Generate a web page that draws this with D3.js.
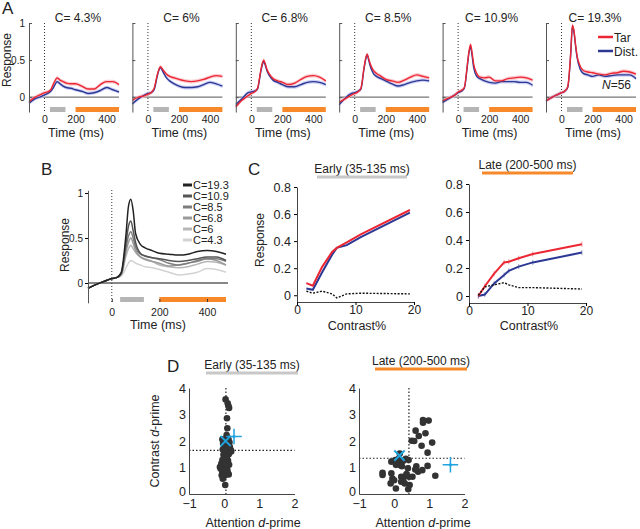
<!DOCTYPE html>
<html>
<head>
<meta charset="utf-8">
<script src="https://cdn.jsdelivr.net/npm/d3@7"></script>
<style>
  body { margin: 0; background: #fff; }
  svg text { font-family: "Liberation Sans", Arial, sans-serif; fill: #222; }
</style>
</head>
<body>
<div id="fig"></div>
<script>
// ---- data ----
const contrasts = ["4.3", "6", "6.8", "8.5", "10.9", "19.3"];
const times = [-100, -60, -20, 0, 20, 40, 60, 70, 80, 90, 100, 120, 140, 170, 200, 240, 280, 320, 360, 400, 440, 480];

// panel A, target / distractor response per contrast
const tarResp = [
  [-0.06, 0.0, 0.04, 0.06, 0.07, 0.10, 0.19, 0.23, 0.26, 0.25, 0.23, 0.21, 0.19, 0.18, 0.18, 0.15, 0.11, 0.11, 0.17, 0.21, 0.21, 0.17],
  [-0.04, 0.0, 0.02, 0.04, 0.06, 0.12, 0.30, 0.37, 0.41, 0.39, 0.36, 0.31, 0.28, 0.26, 0.24, 0.22, 0.21, 0.22, 0.24, 0.27, 0.29, 0.28],
  [-0.13, -0.04, 0.02, 0.05, 0.07, 0.12, 0.35, 0.45, 0.50, 0.45, 0.38, 0.30, 0.25, 0.22, 0.20, 0.17, 0.19, 0.24, 0.28, 0.29, 0.27, 0.22],
  [-0.07, -0.02, 0.03, 0.05, 0.07, 0.12, 0.40, 0.52, 0.58, 0.52, 0.45, 0.36, 0.32, 0.28, 0.24, 0.22, 0.20, 0.23, 0.27, 0.30, 0.28, 0.26],
  [-0.05, -0.01, 0.03, 0.07, 0.09, 0.13, 0.45, 0.62, 0.71, 0.60, 0.45, 0.32, 0.27, 0.26, 0.27, 0.22, 0.22, 0.25, 0.26, 0.27, 0.26, 0.23],
  [-0.05, 0.0, 0.04, 0.06, 0.08, 0.14, 0.62, 0.97, 0.90, 0.72, 0.56, 0.42, 0.36, 0.34, 0.33, 0.31, 0.30, 0.32, 0.33, 0.35, 0.34, 0.31]
];
const distResp = [
  [-0.08, -0.02, 0.01, 0.03, 0.05, 0.08, 0.14, 0.18, 0.21, 0.20, 0.18, 0.15, 0.13, 0.12, 0.10, 0.08, 0.05, 0.06, 0.09, 0.13, 0.10, 0.07],
  [-0.09, -0.02, 0.03, 0.05, 0.06, 0.10, 0.28, 0.36, 0.40, 0.37, 0.33, 0.26, 0.22, 0.18, 0.15, 0.13, 0.13, 0.14, 0.17, 0.20, 0.18, 0.15],
  [-0.10, -0.02, 0.06, 0.07, 0.08, 0.11, 0.33, 0.43, 0.48, 0.43, 0.36, 0.28, 0.23, 0.20, 0.17, 0.14, 0.14, 0.17, 0.20, 0.21, 0.20, 0.17],
  [-0.10, -0.01, 0.05, 0.06, 0.08, 0.11, 0.38, 0.50, 0.57, 0.50, 0.42, 0.32, 0.28, 0.25, 0.22, 0.18, 0.15, 0.17, 0.20, 0.22, 0.23, 0.22],
  [-0.07, -0.02, 0.03, 0.06, 0.08, 0.12, 0.43, 0.60, 0.68, 0.56, 0.40, 0.28, 0.25, 0.22, 0.20, 0.19, 0.21, 0.21, 0.21, 0.20, 0.20, 0.16],
  [-0.05, 0.0, 0.04, 0.06, 0.08, 0.13, 0.60, 0.95, 0.88, 0.70, 0.54, 0.38, 0.32, 0.30, 0.28, 0.30, 0.28, 0.29, 0.30, 0.30, 0.30, 0.25]
];

// panel B, mean response per contrast (highest first, as in legend)
const bLabels = ["C=19.3", "C=10.9", "C=8.5", "C=6.8", "C=6", "C=4.3"];
const bResp = [
  [-0.06, -0.01, 0.03, 0.05, 0.06, 0.12, 0.55, 0.85, 0.93, 0.80, 0.55, 0.43, 0.39, 0.36, 0.33, 0.32, 0.31, 0.32, 0.35, 0.36, 0.35, 0.32],
  [-0.06, -0.01, 0.03, 0.05, 0.06, 0.11, 0.45, 0.63, 0.69, 0.58, 0.45, 0.33, 0.30, 0.28, 0.27, 0.25, 0.24, 0.25, 0.27, 0.29, 0.29, 0.25],
  [-0.06, -0.01, 0.03, 0.05, 0.06, 0.10, 0.40, 0.52, 0.57, 0.50, 0.40, 0.32, 0.30, 0.28, 0.26, 0.22, 0.20, 0.22, 0.25, 0.27, 0.27, 0.24],
  [-0.06, -0.01, 0.03, 0.05, 0.06, 0.10, 0.35, 0.45, 0.50, 0.44, 0.36, 0.29, 0.26, 0.24, 0.22, 0.19, 0.20, 0.22, 0.24, 0.27, 0.25, 0.20],
  [-0.06, -0.01, 0.03, 0.05, 0.06, 0.09, 0.30, 0.38, 0.42, 0.38, 0.34, 0.29, 0.27, 0.24, 0.20, 0.18, 0.17, 0.18, 0.21, 0.24, 0.23, 0.20],
  [-0.06, -0.01, 0.03, 0.05, 0.06, 0.08, 0.17, 0.22, 0.25, 0.24, 0.22, 0.20, 0.18, 0.17, 0.15, 0.12, 0.09, 0.10, 0.12, 0.16, 0.15, 0.12]
];
const bColors = ["#222", "#555", "#7d7d7d", "#9a9a9a", "#b6b6b6", "#d2d2d2"];

// panel C, contrast response
const cContrast = [1.6, 2.7, 4.3, 6, 6.8, 8.5, 10.9, 19.3];
const earlyTar = [0.09, 0.07, 0.21, 0.32, 0.35, 0.39, 0.45, 0.63];
const earlyDist = [0.05, 0.04, 0.17, 0.30, 0.35, 0.37, 0.43, 0.61];
const earlyAtt = [0.03, 0.015, 0.03, 0.01, -0.02, 0.01, 0.015, 0.01];
const lateTar = [0.0, 0.07, 0.16, 0.24, 0.245, 0.27, 0.30, 0.37];
const lateDist = [0.0, 0.01, 0.09, 0.15, 0.18, 0.21, 0.24, 0.31];
const lateAtt = [0.005, 0.065, 0.08, 0.095, 0.08, 0.06, 0.06, 0.05];

// panel D, per-neuron d-primes [attention, contrast]
const earlyUnits = [
  [0.04, 3.57], [0.1, 3.42], [0.12, 3.33], [0.14, 3.25], [0.08, 2.86], [0.09, 2.48], [0.07, 2.22], [-0.05, 2.06],
  [0.03, 1.97], [0.1, 1.91], [0.16, 1.78], [0.0, 1.78], [0.0, 1.59], [0.1, 1.59], [0.19, 1.66], [0.0, 1.4],
  [0.08, 1.34], [-0.05, 1.28], [0.05, 1.15], [-0.12, 1.02], [0.0, 1.02], [0.09, 0.9], [-0.05, 0.8], [0.13, 0.74],
  [-0.03, 0.65], [-0.07, 0.71], [0.03, 0.34], [0.12, 2.05], [0.05, 1.85], [-0.03, 1.9], [0.08, 1.7], [0.13, 1.5],
  [-0.02, 1.48], [0.06, 1.45], [0.11, 1.25], [-0.08, 1.15], [0.02, 1.28], [0.07, 1.05], [0.14, 1.1], [-0.1, 0.95],
  [0.04, 0.88], [0.1, 0.8], [0.02, 0.7], [-0.04, 0.58], [0.06, 1.62], [0.15, 1.95], [-0.04, 1.68], [0.11, 2.1],
  [0.2, 1.6], [0.03, 1.12]
];
const lateUnits = [
  [0.82, 2.79], [0.98, 2.77], [0.82, 2.69], [0.61, 2.39], [0.7, 2.19], [0.89, 2.29], [0.5, 2.01], [0.57, 2.0],
  [1.08, 1.94], [0.78, 1.82], [0.95, 1.56], [0.16, 1.53], [-0.08, 1.22], [0.03, 1.28], [0.13, 1.34], [0.19, 1.22],
  [0.33, 1.33], [0.41, 1.28], [0.16, 1.09], [0.11, 1.15], [0.22, 1.05], [0.63, 1.05], [0.95, 1.06], [0.39, 0.97],
  [0.8, 0.9], [0.68, 0.84], [-0.33, 0.8], [-0.33, 0.72], [-0.08, 0.78], [1.17, 0.69], [0.2, 0.65], [0.28, 0.65],
  [0.42, 0.65], [0.52, 0.65], [-0.05, 0.58], [0.0, 0.52], [0.25, 0.52], [-0.1, 0.4], [0.2, 0.46], [0.05, 0.21],
  [0.4, 0.18], [0.3, 0.4], [0.44, 0.34], [0.05, 1.1], [0.25, 1.25], [0.6, 0.92], [0.35, 0.75]
];
const earlyMean = [0.04, 2.0], earlyPop = [0.28, 2.17];
const lateMean = [0.15, 1.45], latePop = [1.6, 1.1];
const earlyCrit = [0.05, 1.65], lateCrit = [0.42, 1.35];

const RED = "#ec2734", BLUE = "#2c3894", ORANGE = "#f7892b", GREYBAR = "#b5b5b5", CYAN = "#1fa4e0";

const svg = d3.select("#fig").append("svg")
  .attr("width", 640)
  .attr("height", 529);

function letter(txt, x, y) {
  svg.append("text").attr("x", x).attr("y", y).style("font-size", "17px").text(txt);
}

// ---------------- Panel A ----------------
letter("A", 2, 14);
svg.append("text")
  .attr("transform", "translate(11,60) rotate(-90)")
  .style("text-anchor", "middle").style("font-size", "12px")
  .text("Response");

contrasts.forEach((c, i) => {
  const x0 = 29 + i * 103.4;
  const x = d3.scaleLinear().domain([-100, 480]).range([x0, x0 + 90]);
  const y = d3.scaleLinear().domain([-0.2, 1]).range([112, 23]);
  const g = svg.append("g");

  g.append("line")
    .attr("x1", x0).attr("x2", x0 + 90).attr("y1", y(0)).attr("y2", y(0))
    .attr("stroke", "#777").attr("stroke-width", 1.3);
  g.append("line")
    .attr("x1", x(0)).attr("x2", x(0)).attr("y1", 23).attr("y2", 112)
    .attr("stroke", "#333").attr("stroke-dasharray", "1,2");

  const band = d3.area()
    .x((d, j) => x(times[j])).y0(d => y(d - 0.025)).y1(d => y(d + 0.025))
    .curve(d3.curveMonotoneX);
  const line = d3.line()
    .x((d, j) => x(times[j])).y(d => y(d))
    .curve(d3.curveMonotoneX);

  g.append("path").datum(distResp[i]).attr("d", band).attr("fill", "#b9bdf0").attr("opacity", 0.7);
  g.append("path").datum(tarResp[i]).attr("d", band).attr("fill", "#f8b7bd").attr("opacity", 0.7);
  g.append("path").datum(distResp[i]).attr("d", line).attr("fill", "none").attr("stroke", BLUE).attr("stroke-width", 1.4);
  g.append("path").datum(tarResp[i]).attr("d", line).attr("fill", "none").attr("stroke", RED).attr("stroke-width", 1.4);

  // analysis windows
  g.append("rect").attr("x", x(35)).attr("width", x(135) - x(35)).attr("y", 107).attr("height", 5).attr("fill", GREYBAR);
  g.append("rect").attr("x", x(200)).attr("width", x(480) - x(200)).attr("y", 107).attr("height", 5).attr("fill", ORANGE);

  const yAxis = g.append("g")
    .attr("transform", `translate(${x0},0)`)
    .call(d3.axisLeft(y).tickValues([0, 0.5, 1]).tickSize(-3).tickSizeOuter(0).tickPadding(4)
      .tickFormat(i === 0 ? d3.format("") : () => ""));
  yAxis.select(".domain").attr("stroke", "#555");
  yAxis.selectAll(".tick line").attr("stroke", "#555");
  yAxis.selectAll("text").style("font-size", "10px").attr("fill", "#222");

  const xAxis = g.append("g")
    .attr("transform", "translate(0,112)")
    .call(d3.axisBottom(x).tickValues([0, 200, 400]).tickSize(0).tickPadding(4));
  xAxis.select(".domain").remove();
  xAxis.selectAll("text").style("font-size", "10.5px").attr("fill", "#222");

  g.append("text")
    .attr("x", x0 + 49).attr("y", 22)
    .style("text-anchor", "middle").style("font-size", "12px")
    .text("C= " + c + "%");
  g.append("text")
    .attr("x", x0 + 47).attr("y", 137)
    .style("text-anchor", "middle").style("font-size", "12.5px")
    .text("Time (ms)");

  if (i === contrasts.length - 1) {
    [["Tar", RED, 37], ["Dist.", BLUE, 51]].forEach(([lab, col, ly]) => {
      g.append("line").attr("x1", 598).attr("x2", 613).attr("y1", ly).attr("y2", ly)
        .attr("stroke", col).attr("stroke-width", 2.5);
      g.append("text").attr("x", 614).attr("y", ly + 4.5).style("font-size", "12px").text(lab);
    });
    const n = g.append("text").attr("x", 631).attr("y", 89)
      .style("text-anchor", "end").style("font-size", "12px");
    n.append("tspan").style("font-style", "italic").text("N");
    n.append("tspan").text("=56");
  }
});

// ---------------- Panel B ----------------
letter("B", 41, 175);
{
  const x = d3.scaleLinear().domain([-100, 480]).range([88, 226]);
  const y = d3.scaleLinear().domain([-0.22, 1.03]).range([302.8, 190.3]);
  const g = svg.append("g");

  g.append("line").attr("x1", 88).attr("x2", 228).attr("y1", y(0)).attr("y2", y(0))
    .attr("stroke", "#111").attr("stroke-width", 1);
  g.append("line").attr("x1", x(0)).attr("x2", x(0)).attr("y1", 190).attr("y2", 302)
    .attr("stroke", "#333").attr("stroke-dasharray", "1,2");

  const line = d3.line().x((d, j) => x(times[j])).y(d => y(d)).curve(d3.curveMonotoneX);
  bResp.slice().reverse().forEach((r, k) => {
    const idx = bResp.length - 1 - k;
    g.append("path").datum(r).attr("d", line).attr("fill", "none")
      .attr("stroke", bColors[idx]).attr("stroke-width", 1.5);
  });

  g.append("rect").attr("x", x(35)).attr("width", x(135) - x(35)).attr("y", 297).attr("height", 5).attr("fill", GREYBAR);
  g.append("rect").attr("x", x(200)).attr("width", x(480) - x(200)).attr("y", 297).attr("height", 5).attr("fill", ORANGE);

  const yAxis = g.append("g").attr("transform", "translate(88,0)")
    .call(d3.axisLeft(y).tickValues([0, 0.5, 1]).tickSize(3).tickSizeOuter(0).tickPadding(2).tickFormat(d3.format("")));
  yAxis.select(".domain").attr("stroke", "#555");
  yAxis.selectAll("text").style("font-size", "10px").attr("fill", "#222");

  const xAxis = g.append("g").attr("transform", "translate(0,302)")
    .call(d3.axisBottom(x).tickValues([0, 200, 400]).tickSize(-3).tickPadding(7));
  xAxis.select(".domain").remove();
  xAxis.selectAll(".tick line").attr("stroke", "#333");
  xAxis.selectAll("text").style("font-size", "10.5px").attr("fill", "#222");

  svg.append("text").attr("transform", "translate(69,245) rotate(-90)")
    .style("text-anchor", "middle").style("font-size", "12px").text("Response");
  svg.append("text").attr("x", 158).attr("y", 329)
    .style("text-anchor", "middle").style("font-size", "12.5px").text("Time (ms)");

  bLabels.forEach((lab, k) => {
    const ly = 185 + k * 11;
    g.append("line").attr("x1", 183).attr("x2", 192).attr("y1", ly).attr("y2", ly)
      .attr("stroke", bColors[k]).attr("stroke-width", 3);
    g.append("text").attr("x", 193).attr("y", ly + 4).style("font-size", "11px").text(lab);
  });
}

// ---------------- Panel C ----------------
letter("C", 248, 175);
function contrastPanel(x0, yTop, yBot, tar, dist, att, title, barCol, bar, errs) {
  const x = d3.scaleLinear().domain([0, 20]).range([x0, x0 + 117]);
  const y = d3.scaleLinear().domain([-0.05, 0.8]).range([yBot, yTop]);
  const g = svg.append("g");

  const line = d3.line().x((d, j) => x(cContrast[j])).y(d => y(d));
  if (errs) {
    [[tar, RED], [dist, BLUE]].forEach(([s, col]) => {
      g.selectAll(null).data(s).enter().append("line")
        .attr("x1", (d, j) => x(cContrast[j])).attr("x2", (d, j) => x(cContrast[j]))
        .attr("y1", d => y(d - 0.018)).attr("y2", d => y(d + 0.018))
        .attr("stroke", col).attr("stroke-width", 0.8).attr("opacity", 0.6);
    });
  }
  g.append("path").datum(dist).attr("d", line).attr("fill", "none").attr("stroke", BLUE).attr("stroke-width", 2);
  g.append("path").datum(tar).attr("d", line).attr("fill", "none").attr("stroke", RED).attr("stroke-width", 2);
  g.append("path").datum(att).attr("d", line).attr("fill", "none").attr("stroke", "#111")
    .attr("stroke-width", 1.4).attr("stroke-dasharray", "2,1.5");

  const yAxis = g.append("g").attr("transform", `translate(${x0},0)`)
    .call(d3.axisLeft(y).tickValues([0, 0.2, 0.4, 0.6, 0.8]).tickSize(3).tickSizeOuter(0).tickPadding(3)
      .tickFormat(d3.format("")));
  yAxis.select(".domain").attr("stroke", "#444");
  yAxis.selectAll("text").style("font-size", "12.5px").attr("fill", "#222");

  const xAxis = g.append("g").attr("transform", `translate(0,${yBot})`)
    .call(d3.axisBottom(x).tickValues([0, 10, 20]).tickSize(3).tickSizeOuter(0).tickPadding(0));
  xAxis.select(".domain").attr("stroke", "#444");
  xAxis.selectAll("text").style("font-size", "12px").attr("fill", "#222");

  g.append("text").attr("x", x0 + 60).attr("y", 330)
    .style("text-anchor", "middle").style("font-size", "12.5px").text("Contrast%");
  g.append("text").attr("x", (bar[0] + bar[1]) / 2).attr("y", bar[2] - 4)
    .style("text-anchor", "middle").style("font-size", "12px").text(title);
  g.append("line").attr("x1", bar[0]).attr("x2", bar[1]).attr("y1", bar[2]).attr("y2", bar[2])
    .attr("stroke", barCol).attr("stroke-width", 3);
}
contrastPanel(297, 187, 302, earlyTar, earlyDist, earlyAtt, "Early (35-135 ms)", "#c8c8c8", [317, 407, 177], false);
contrastPanel(469, 184, 303, lateTar, lateDist, lateAtt, "Late (200-500 ms)", ORANGE, [482, 573, 173], true);
svg.append("text").attr("transform", "translate(264,240) rotate(-90)")
  .style("text-anchor", "middle").style("font-size", "12px").text("Response");

// ---------------- Panel D ----------------
letter("D", 167, 372);
function dprimePanel(x0, units, mean, pop, crit, title, barCol, bar) {
  const x = d3.scaleLinear().domain([-1, 2]).range([x0, x0 + 105.5]);
  const y = d3.scaleLinear().domain([0, 4]).range([494, 388]);
  const g = svg.append("g");

  g.append("line").attr("x1", x(crit[0])).attr("x2", x(crit[0])).attr("y1", 388).attr("y2", 494)
    .attr("stroke", "#222").attr("stroke-width", 1.2).attr("stroke-dasharray", "1.5,2");
  g.append("line").attr("x1", x0).attr("x2", x(2)).attr("y1", y(crit[1])).attr("y2", y(crit[1]))
    .attr("stroke", "#222").attr("stroke-width", 1.2).attr("stroke-dasharray", "1.5,2");

  g.selectAll("circle").data(units).enter().append("circle")
    .attr("cx", d => x(d[0])).attr("cy", d => y(d[1])).attr("r", 3.3)
    .attr("fill", "#333");

  g.append("path").attr("transform", `translate(${x(mean[0])},${y(mean[1])})`)
    .attr("d", d3.symbol(d3.symbolTimes, 70)()).attr("stroke", CYAN).attr("stroke-width", 2).attr("fill", "none");
  g.append("path").attr("transform", `translate(${x(pop[0])},${y(pop[1])})`)
    .attr("d", d3.symbol(d3.symbolPlus, 80)()).attr("stroke", CYAN).attr("stroke-width", 1.5).attr("fill", "none");
  g.append("circle").attr("cx", x(pop[0])).attr("cy", y(pop[1])).attr("r", 1.6).attr("fill", CYAN);

  const yAxis = g.append("g").attr("transform", `translate(${x0},0)`)
    .call(d3.axisLeft(y).ticks(4).tickSize(0).tickPadding(3).tickFormat(d3.format("d")));
  yAxis.select(".domain").attr("stroke", "#444");
  yAxis.selectAll("text").style("font-size", "12.5px").attr("fill", "#222");
  yAxis.selectAll(".tick text").filter(d => d === 0).attr("dy", "0.1em");

  const xAxis = g.append("g").attr("transform", "translate(0,494)")
    .call(d3.axisBottom(x).tickValues([-1, 0, 1, 2]).tickSize(0).tickPadding(5).tickFormat(d3.format("d")));
  xAxis.select(".domain").attr("stroke", "#444");
  xAxis.selectAll("text").style("font-size", "12.5px").attr("fill", "#222");

  const xl = g.append("text").attr("x", x0 + 64).attr("y", 527)
    .style("text-anchor", "middle").style("font-size", "12.5px");
  xl.append("tspan").text("Attention ");
  xl.append("tspan").style("font-style", "italic").text("d");
  xl.append("tspan").text("-prime");

  g.append("text").attr("x", (bar[0] + bar[1]) / 2).attr("y", bar[2] - 4)
    .style("text-anchor", "middle").style("font-size", "12px").text(title);
  g.append("line").attr("x1", bar[0]).attr("x2", bar[1]).attr("y1", bar[2]).attr("y2", bar[2])
    .attr("stroke", barCol).attr("stroke-width", 3);
}
dprimePanel(189, earlyUnits, earlyMean, earlyPop, earlyCrit, "Early (35-135 ms)", "#c8c8c8", [206, 298, 373]);
dprimePanel(359, lateUnits, lateMean, latePop, lateCrit, "Late (200-500 ms)", ORANGE, [375, 467, 369]);

const cl = svg.append("text").attr("transform", "translate(159,441) rotate(-90)")
  .style("text-anchor", "middle").style("font-size", "12.5px");
cl.append("tspan").text("Contrast ");
cl.append("tspan").style("font-style", "italic").text("d");
cl.append("tspan").text("-prime");
</script>
</body>
</html>
